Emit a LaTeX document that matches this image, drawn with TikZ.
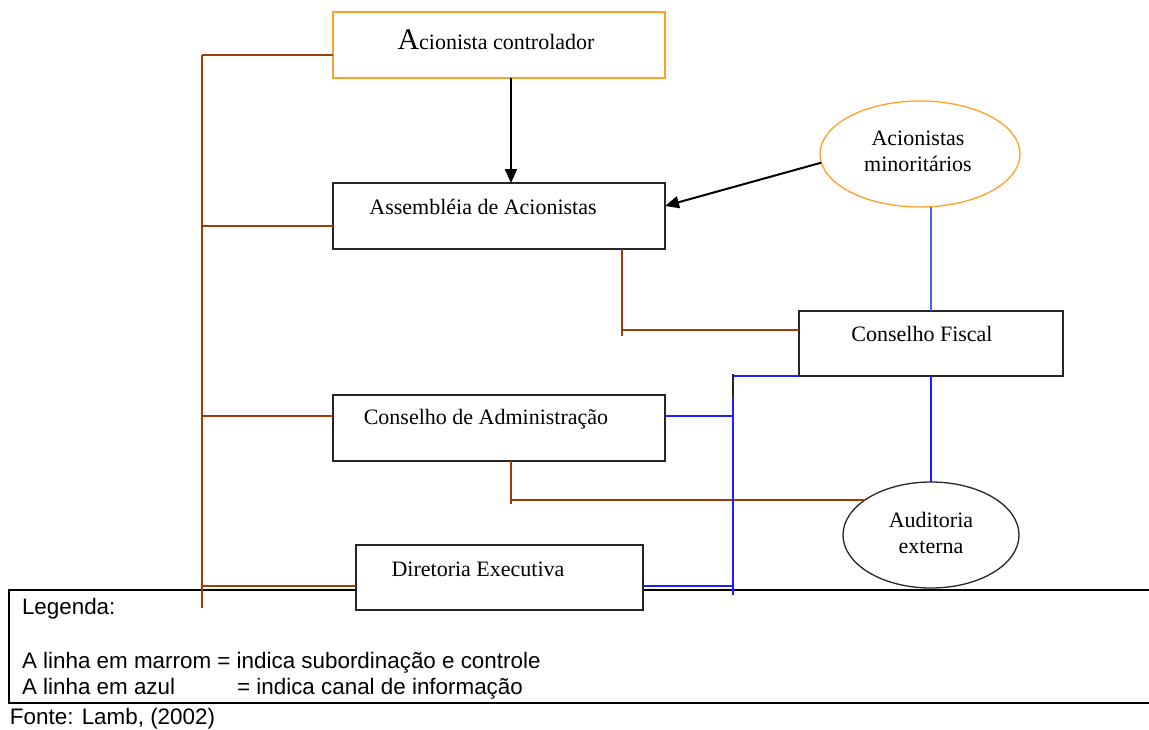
\documentclass[tikz,border=0pt]{standalone}
\usepackage{fontspec}
\setmainfont{Liberation Serif}
\newfontfamily\legendfont{Liberation Sans}
\usetikzlibrary{arrows.meta,shapes.geometric}
\definecolor{GovInk}{gray}{0.15}
\definecolor{GovBrown}{RGB}{160,60,10}
\definecolor{GovOrange}{RGB}{255,160,40}
\definecolor{GovBlue}{RGB}{30,30,255}
\definecolor{GovLightBlue}{RGB}{60,100,255}
\tikzset{
    gov/diagram/.style={
        x=0.5pt, y=-0.5pt,
        font=\fontsize{11}{13}\selectfont,
        line cap=butt,
        every node/.style={inner sep=0pt, outer sep=0pt}
    },
    gov/box/.style={draw=GovInk, fill=white, line width=0.65pt,
        minimum width=166pt, minimum height=33pt},
    gov/ellipse/.style={ellipse, draw=GovInk, fill=white, line width=0.65pt},
    gov/label/.style={anchor=base, align=center},
    gov/control/.style={draw=black, line width=1pt,
        -{Triangle[length=7pt, width=6pt]}},
    gov/subordination/.style={draw=GovBrown, line width=0.65pt},
    gov/information/.style={draw=GovBlue, line width=0.65pt},
    gov/legend/.style={draw=black, line width=1pt},
    gov/legendtext/.style={anchor=base west, font=\legendfont\fontsize{11.2}{13}\selectfont}
}
\begin{document}
\begin{tikzpicture}[gov/diagram]
    \useasboundingbox (0,0) rectangle (1149,729);
    % legend frame first, the lower boxes sit on top of it
    \draw[gov/legend] (1160,590) -- (9,590) -- (9,703) -- (1160,703);
    \node[gov/legendtext] (legTitle) at (22,614) {Legenda:};
    \node[gov/legendtext] (legBrown) at (22,668) {A linha em marrom = indica subordinação e controle};
    \node[gov/legendtext] (legBlue) at (22,694) {A linha em azul\hspace{31pt}= indica canal de informação};
    \node[gov/legendtext] (source) at (10,724) {Fonte: Lamb, (2002)};
    % organs of the company
    \node[gov/box, draw=GovOrange] (acc) at (499,45) {};
    \node[gov/box] (asm) at (499,216) {};
    \node[gov/box, minimum width=132pt, minimum height=32.5pt] (cfi) at (931,343.5) {};
    \node[gov/box] (cad) at (499,428) {};
    \node[gov/box, minimum width=143.5pt, minimum height=32.5pt] (dex) at (499.5,577.5) {};
    \node[gov/ellipse, draw=GovOrange, minimum width=100pt, minimum height=53pt] (min) at (920,154) {};
    \node[gov/ellipse, minimum width=88pt, minimum height=53pt] (aud) at (931,535) {};
    \node[gov/label] (accText) at (496,49) {{\fontsize{15}{15}\selectfont A}cionista controlador};
    \node[gov/label] (asmText) at (483,214) {Assembléia de Acionistas};
    \node[gov/label] (cfiText) at (922,341) {Conselho Fiscal};
    \node[gov/label] (cadText) at (486,424) {Conselho de Administração};
    \node[gov/label] (dexText) at (478,576) {Diretoria Executiva};
    \node[align=center] (minText) at (918,151) {Acionistas\\minoritários};
    \node[align=center] (audText) at (931,533) {Auditoria\\externa};
    % control arrows
    \draw[gov/control] ([xshift=6pt]acc.south) -- ([xshift=6pt]asm.north);
    \draw[gov/control] (min.185) -- ([yshift=5pt]asm.east);
    % brown lines: subordination and control
    \coordinate (busTop) at (202,55);
    \coordinate (busEnd) at (202,608);
    \draw[gov/subordination] (busTop) -- (busEnd);
    \draw[gov/subordination] (busTop) -- ([yshift=-5pt]acc.west);
    \coordinate (asmW) at ([yshift=-5pt]asm.west);
    \coordinate (cadW) at ([yshift=6pt]cad.west);
    \coordinate (dexW) at ([yshift=-4.25pt]dex.west);
    \foreach \p in {asmW,cadW,dexW}
        \draw[gov/subordination] (\p) -- (\p -| busTop);
    \coordinate (asmS) at ([xshift=61.5pt]asm.south);
    \coordinate (cfiW) at ([yshift=6.75pt]cfi.west);
    \draw[gov/subordination] (asmS) -- ++(0,87);
    \draw[gov/subordination] (cfiW) -- (cfiW -| asmS);
    \coordinate (cadS) at ([xshift=6pt]cad.south);
    \coordinate (cadK) at ([xshift=6pt,yshift=-19.5pt]cad.south);
    \draw[gov/subordination] (cadS) -- ++(0,43);
    \draw[gov/subordination] (cadK) -- (cadK -| aud.152);
    % blue lines: information channel
    \coordinate (infoBus) at (733,595);
    \draw[gov/information] (cfi.south west) -| (infoBus);
    \draw[GovInk, line width=0.65pt] (733,374) -- (733,397);
    \coordinate (cadE) at ([yshift=6pt]cad.east);
    \coordinate (dexE) at ([yshift=-4.25pt]dex.east);
    \foreach \p in {cadE,dexE}
        \draw[gov/information] (\p) -- (\p -| infoBus);
    \draw[gov/information, draw=GovLightBlue, line width=0.6pt] (min.south -| cfi.north) -- (cfi.north);
    \draw[gov/information] (cfi.south) -- (aud.north);
\end{tikzpicture}
\end{document}
